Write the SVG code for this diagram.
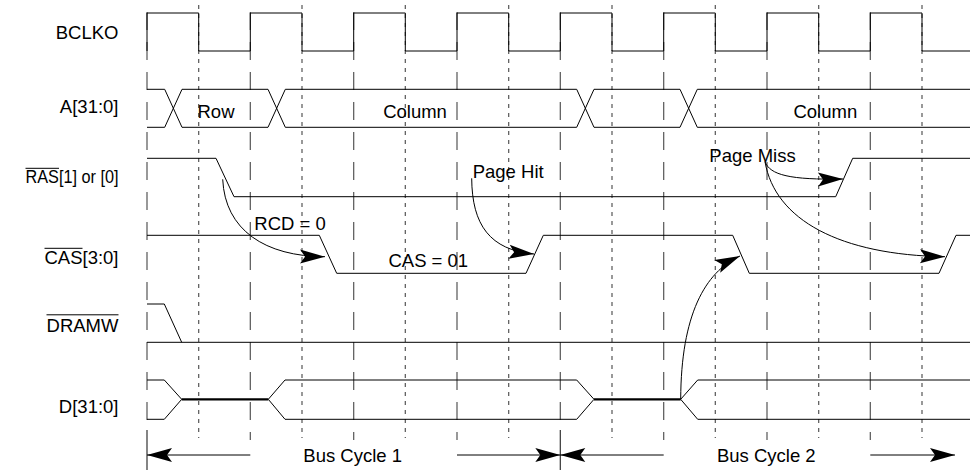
<svg xmlns="http://www.w3.org/2000/svg" width="970" height="470" viewBox="0 0 970 470">
<style>
text{font-family:"Liberation Sans",Arial,sans-serif;font-size:18.5px;fill:#000}
.lbl{text-anchor:end}
.mid{text-anchor:middle}
.sig{fill:none;stroke:#000;stroke-width:1}
.bus{fill:none;stroke:#000;stroke-width:2.2}
.ld{stroke:#555;stroke-width:1.2;stroke-dasharray:18 12}
.sd{stroke:#555;stroke-width:1.2;stroke-dasharray:4 5}
.sol{stroke:#333;stroke-width:1.2}
.arr{fill:none;stroke:#000;stroke-width:1;marker-end:url(#ah)}
.ovl{stroke:#000;stroke-width:1}
</style>
<defs>
<marker id="ah" viewBox="-26 -9 27 18" refX="0" refY="0" markerWidth="27" markerHeight="18" markerUnits="userSpaceOnUse" orient="auto">
<path d="M0,0 L-25,-7 L-20,0 L-25,7 Z" fill="#000"/>
</marker>
</defs>

<g id="gridlines">
<line class="ld" x1="147" y1="12" x2="147" y2="430"/>
<line class="sol" x1="147" y1="430" x2="147" y2="470"/>
<line class="ld" x1="250.3" y1="12" x2="250.3" y2="440"/>
<line class="ld" x1="353.7" y1="12" x2="353.7" y2="440"/>
<line class="ld" x1="457" y1="12" x2="457" y2="440"/>
<line class="ld" x1="560.3" y1="12" x2="560.3" y2="430"/>
<line class="sol" x1="560.3" y1="430" x2="560.3" y2="470"/>
<line class="ld" x1="663.7" y1="12" x2="663.7" y2="440"/>
<line class="ld" x1="767" y1="12" x2="767" y2="440"/>
<line class="ld" x1="870.3" y1="12" x2="870.3" y2="440"/>
<line class="sd" x1="198.7" y1="5" x2="198.7" y2="438"/>
<line class="sd" x1="302" y1="5" x2="302" y2="438"/>
<line class="sd" x1="405.3" y1="5" x2="405.3" y2="438"/>
<line class="sd" x1="508.7" y1="5" x2="508.7" y2="438"/>
<line class="sd" x1="612" y1="5" x2="612" y2="438"/>
<line class="sd" x1="715.3" y1="5" x2="715.3" y2="438"/>
<line class="sd" x1="818.7" y1="5" x2="818.7" y2="438"/>
<line class="sd" x1="922" y1="5" x2="922" y2="438"/>
</g>

<g id="bclko">
<text class="lbl" x="118.5" y="39">BCLKO</text>
<path class="sig" d="M147,51 V13 H198.7 V51 H250.3 V13 H302 V51 H353.7 V13 H405.3 V51 H457 V13 H508.7 V51 H560.3 V13 H612 V51 H663.7 V13 H715.3 V51 H767 V13 H818.7 V51 H870.3 V13 H922 V51 H970"/>
</g>

<g id="addr">
<text class="lbl" x="118.5" y="113">A[31:0]</text>
<path class="sig" d="M147,89.3 H164.7 L182,127.3 H268 L285.3,89.3 H576.7 L594,127.3 H680 L697.3,89.3 H970"/>
<path class="sig" d="M147,127.3 H164.7 L182,89.3 H268 L285.3,127.3 H576.7 L594,89.3 H680 L697.3,127.3 H970"/>
<text class="mid" x="216" y="118.3">Row</text>
<text class="mid" x="415" y="118.3">Column</text>
<text class="mid" x="825.3" y="118.3">Column</text>
</g>

<g id="ras">
<text x="25.5" y="183" textLength="93" lengthAdjust="spacingAndGlyphs">RAS[1] or [0]</text>
<line class="ovl" x1="25.5" y1="168.3" x2="59" y2="168.3"/>
<path class="sig" d="M147,158.3 H216 L234,196.7 H835.7 L852.7,158.3 H970"/>
</g>

<g id="cas">
<text class="lbl" x="118.5" y="263.5">CAS[3:0]</text>
<line class="ovl" x1="44.5" y1="248.3" x2="82.5" y2="248.3"/>
<path class="sig" d="M147,235.3 H319.3 L336.7,273.3 H526 L543.3,235.3 H732.7 L749.3,273.3 H939 L956,235.3 H970"/>
<text class="mid" x="428.3" y="266.7">CAS = 01</text>
</g>

<g id="dramw">
<text class="lbl" x="118.5" y="331.5">DRAMW</text>
<line class="ovl" x1="46.5" y1="314.8" x2="118.5" y2="314.8"/>
<path class="sig" d="M147,304 H164.3 L181.7,342.3"/>
<path class="sig" d="M147,342.3 H970"/>
</g>

<g id="data">
<text class="lbl" x="118.5" y="413">D[31:0]</text>
<path class="sig" d="M147,380 H164.3 L181.7,399.3 L164.3,419.3 H147"/>
<path class="bus" d="M181.7,399.3 H268.3"/>
<path class="sig" d="M268.3,399.3 L285,380 H576.7 L594,399.3 L576.7,419.3 H285 Z"/>
<path class="bus" d="M594,399.3 H680.7"/>
<path class="sig" d="M970,380 H697.7 L680.7,399.3 L697.7,419.3 H970"/>
</g>

<g id="annotations">
<text x="254.3" y="230">RCD = 0</text>
<text x="472.7" y="178.3">Page Hit</text>
<text x="709.3" y="162.3">Page Miss</text>
<text class="mid" x="352.7" y="461.7">Bus Cycle 1</text>
<text class="mid" x="766.3" y="461.7">Bus Cycle 2</text>
</g>

<g id="connectors">
<path class="arr" d="M222.7,179.3 C225,230 265,256.5 325,256.7"/>
<path class="arr" d="M471.7,178.3 C472,225 490,250 534,254"/>
<path class="arr" d="M765,161.7 C770,175 790,180 843,179"/>
<path class="arr" d="M765,161.7 C775,220 840,255 945,256.7"/>
<path class="arr" d="M680.7,399.3 C681,315 705,272 740,256"/>
<path class="arr" d="M250.3,455 H147"/>
<path class="arr" d="M457,455 H560.3"/>
<path class="arr" d="M663.7,455 H560.3"/>
<path class="arr" d="M870.3,455 H955"/>
</g>
</svg>
